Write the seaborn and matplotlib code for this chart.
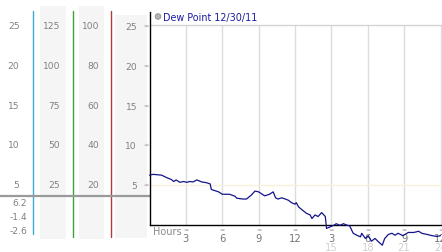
import matplotlib
matplotlib.use("Agg")
import matplotlib.pyplot as plt
import seaborn as sns
import pandas as pd
from matplotlib.transforms import blended_transform_factory as btf
from matplotlib.patches import Rectangle, Circle

# ---------------- data ----------------
hours = [0, 0.3, 1.0, 1.4, 1.8, 2.0, 2.2, 2.5, 2.8, 3.1, 3.3, 3.6, 3.9, 4.3, 4.7,
         5.0, 5.1, 5.3, 5.7, 6.0, 6.6, 7.05, 7.2, 7.7, 8.0, 8.4, 8.7, 9.0, 9.5,
         9.9, 10.2, 10.4, 10.6, 10.9, 11.2, 11.45, 11.7, 12.0, 12.1, 12.3, 12.7,
         12.95, 13.25, 13.4, 13.65, 13.9, 14.2, 14.5, 14.6, 14.9, 15.2, 15.4,
         15.7, 16.0, 16.3, 16.5, 16.8, 17.1, 17.4, 17.5, 17.8, 18.05, 18.3, 18.6,
         18.9, 19.2, 19.4, 19.7, 20.0, 20.25, 20.5, 20.9, 21.35, 21.8, 22.2,
         22.45, 22.9, 23.3, 23.7, 24.0]
dew_point = [6.2, 6.3, 6.2, 5.9, 5.65, 5.4, 5.6, 5.3, 5.4, 5.3, 5.4, 5.35, 5.6,
             5.35, 5.25, 5.1, 4.4, 4.3, 4.1, 3.8, 3.8, 3.55, 3.3, 3.2, 3.2, 3.7,
             4.2, 4.1, 3.6, 3.8, 4.1, 3.35, 3.2, 3.35, 3.2, 3.05, 2.75, 2.55,
             2.75, 2.2, 1.7, 1.4, 1.2, 0.75, 1.2, 1.0, 1.5, 1.0, -0.5, -0.3, -0.1,
             0.1, -0.1, 0.1, -0.1, -0.15, -1.1, -1.35, -1.55, -1.1, -1.75, -1.4,
             -2.1, -1.75, -2.2, -2.6, -1.75, -1.25, -1.1, -1.35, -1.1, -1.4, -1.0,
             -1.0, -0.85, -1.1, -1.25, -1.4, -1.5, -1.4]
series_label = "Dew Point 12/30/11"

y_ticks = [25, 20, 15, 10, 5]
scale_a = ["25", "20", "15", "10", "5"]
scale_b = ["125", "100", "75", "50", "25"]
scale_c = ["100", "80", "60", "40", "20"]
scale_d = ["25", "20", "15", "10", "5"]
x_ticks = [3, 6, 9, 12, 15, 18, 21, 24]
x_labels = ["3", "6", "9", "12", "3", "6", "9", "12"]
x_ticks2 = [15, 18, 21, 24]
x_labels2 = ["15", "18", "21", "24"]
readouts = ["6.2", "-1.4", "-2.6"]

df = pd.DataFrame({"hour": hours, "dew": dew_point})

# ---------------- figure ----------------
sns.set_theme(style="white")
plt.rcParams["font.family"] = ["DejaVu Sans"]
W, H = 442, 253
fig = plt.figure(figsize=(W / 100, H / 100), dpi=100)
fig.patch.set_facecolor("white")

# overlay for the left-side panels (pixel coordinates)
ov = fig.add_axes([0, 0, 1, 1], zorder=0)
ov.set_xlim(0, W)
ov.set_ylim(H, 0)
ov.axis("off")

# main axes
px_left, px_right, px_top, px_bot = 149.5, 442, 13, 225.5
ax = fig.add_axes([px_left / W, (H - px_bot) / H, (px_right - px_left) / W,
                   (px_bot - px_top) / H], zorder=2)
ax.set_facecolor("none")
ymax = (px_bot - px_top) / 7.96
ax.set_ylim(0, ymax)
ax.set_xlim(0, (px_right - px_left) / 12.125)

# grid
ax.vlines(x_ticks, 0, 25, color="#dcdcdc", lw=1.0, zorder=1)
ax.axhline(25, color="#d4d4d4", lw=1.0, zorder=1)
ax.axhline(5, color="#f6f1d8", lw=1.0, zorder=1)

sns.lineplot(data=df, x="hour", y="dew", ax=ax, color="#14148c", lw=0.9,
             clip_on=False, zorder=5, legend=False)
ax.set_xlabel("")
ax.set_ylabel("")

for s in ["top", "right"]:
    ax.spines[s].set_visible(False)
for s in ["left", "bottom"]:
    ax.spines[s].set_color("black")
    ax.spines[s].set_linewidth(1.0)

tc = "#808080"
ax.set_yticks(y_ticks)
ax.set_yticklabels(scale_d)
ax.tick_params(axis="y", length=0, pad=9, labelsize=6.6, labelcolor=tc)
ax.set_xticks(x_ticks)
ax.set_xticklabels(x_labels)
ax.tick_params(axis="x", length=0, pad=6.0, labelsize=7.2, labelcolor="#777777")

# small tick glyphs
tr_y = btf(ax.transAxes, ax.transData)
for v in y_ticks:
    ax.text(-0.012, v, "≈", transform=tr_y, ha="center", va="center",
            fontsize=4.5, color="#999999", clip_on=False)
tr_x = btf(ax.transData, ax.transAxes)
for h in x_ticks:
    ax.text(h, -0.022, "≈", transform=tr_x, ha="center", va="center",
            fontsize=4.5, color="#999999", clip_on=False)
for h, lab in zip(x_ticks2, x_labels2):
    ax.text(h, -0.105, lab, transform=tr_x, ha="center", va="center",
            fontsize=7.2, color="#d0d0d0", clip_on=False, zorder=0)
ax.text(0.3, -0.032, "Hours", transform=tr_x, ha="left", va="center",
        fontsize=7.0, color="#8a8a8a", clip_on=False)

# legend
ov.add_patch(Circle((158, 17.5), 2.8, facecolor="#b4b4b4", edgecolor="#8c8c8c",
                    lw=0.6, zorder=3))
ov.text(163, 17.5, series_label, ha="left", va="center", fontsize=6.9,
        color="#1a1aa0", zorder=3)

# left panels
for x0, x1, y0, y1 in [(40, 65.7, 7, 240), (79, 104, 7, 240), (115, 146.7, 16, 239)]:
    ov.add_patch(Rectangle((x0, y0), x1 - x0, y1 - y0, facecolor="#f5f5f5",
                           edgecolor="none", zorder=1))
ov.plot([33.3, 33.3], [12, 235], color="#3fa9d1", lw=1.0, zorder=2)
ov.plot([72.7, 72.7], [12, 238], color="#3aa33a", lw=1.0, zorder=2)
ov.plot([111, 111], [12, 238], color="#b03a3a", lw=1.0, zorder=2)
ov.plot([0, 149.5], [197, 197], color="#9a9a9a", lw=1.6, zorder=2.5)

tr_fig_y = btf(fig.transFigure, ax.transData)
for labels, xr in [(scale_a, 19.5), (scale_b, 60), (scale_c, 99)]:
    for v, lab in zip(y_ticks, labels):
        fig.text(xr / W, v, lab, transform=tr_fig_y, ha="right", va="center",
                 fontsize=6.6, color=tc, zorder=3)

for i, lab in enumerate(readouts):
    ov.text(27, 204 + i * 14, lab, ha="right", va="center", fontsize=6.6,
            color=tc, zorder=3)

fig.savefig("out.png", dpi=100, facecolor="white")
